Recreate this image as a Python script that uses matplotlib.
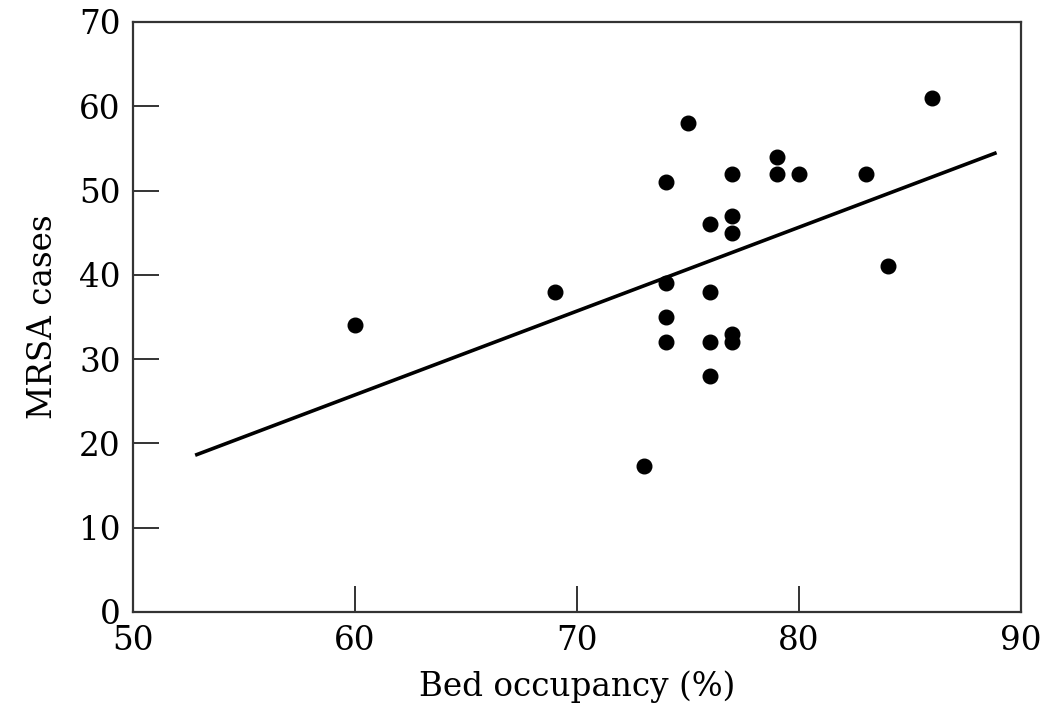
import matplotlib
matplotlib.use("Agg")
import matplotlib.pyplot as plt

# bed occupancy (%) vs MRSA cases
occupancy = [60, 69, 73, 74, 74, 74, 74, 75, 76, 76, 76, 76,
             77, 77, 77, 77, 77, 79, 79, 80, 83, 84, 86]
mrsa = [34, 38, 17.3, 51, 39, 35, 32, 58, 46, 38, 32, 28,
        52, 47, 45, 33, 32, 54, 52, 52, 52, 41, 61]

# fitted line endpoints
fit_x = [52.8, 88.9]
fit_y = [18.6, 54.5]

plt.rcParams.update({
    "font.family": "serif",
    "font.serif": ["DejaVu Serif"],
    "font.size": 23.5,
})

fig = plt.figure(figsize=(10.46, 7.15), dpi=100)
ax = fig.add_axes([133 / 1046, 1 - 612 / 715, 888 / 1046, 590 / 715])

ax.plot(fit_x, fit_y, color="black", linewidth=2.6, solid_capstyle="butt")
ax.plot(occupancy, mrsa, "o", color="black", markersize=10.5, linestyle="none")

ax.set_xlim(50, 90)
ax.set_ylim(0, 70)
ax.set_xticks([50, 60, 70, 80, 90])
ax.set_yticks(range(0, 71, 10))
ax.tick_params(direction="in", length=19, width=1.4, color="#333333",
               top=False, right=False, pad=9)
for s in ax.spines.values():
    s.set_linewidth(1.6)
    s.set_color("#333333")

ax.set_xlabel("Bed occupancy (%)", labelpad=10)
ax.set_ylabel("MRSA cases", labelpad=14)

fig.savefig("out.png", dpi=100)
